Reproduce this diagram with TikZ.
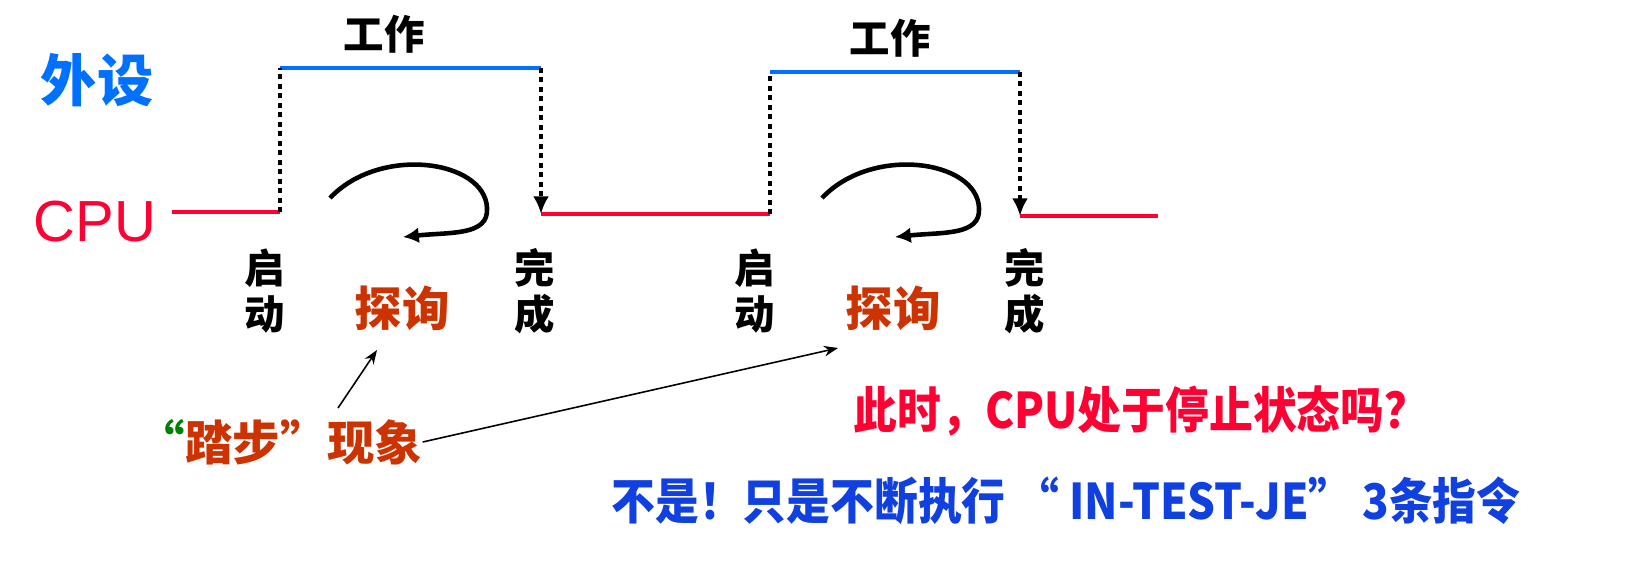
\documentclass[tikz,border=0pt]{standalone}
\usepackage{fontspec}
\setmainfont{Liberation Sans}
\newfontfamily\cjk{Noto Sans CJK SC}
\usepackage{tikz}
\usetikzlibrary{arrows.meta,positioning,calc}

\definecolor{cpured}{RGB}{255,0,51}
\definecolor{devblue}{RGB}{0,112,255}
\definecolor{pollred}{RGB}{204,51,0}
\definecolor{quotegreen}{RGB}{0,128,0}
\definecolor{ansblue}{RGB}{16,64,224}

\tikzset{
  cpuline/.style={draw=cpured, line width=2.8pt},
  devline/.style={draw=devblue, line width=2.8pt},
  handoff/.style={line width=2.6pt, dash pattern=on 2.8pt off 2.6pt},
  loopy/.style={line width=2.6pt, -{Latex[length=9pt,width=9pt]}},
  pointer/.style={line width=0.9pt, -{Stealth[length=8pt,width=6pt]}},
  tag/.style={inner sep=0pt, font=\cjk\bfseries\fontsize{23}{26}\selectfont, align=center},
  poll/.style={inner sep=0pt, text=pollred, font=\cjk\bfseries\fontsize{27}{30}\selectfont},
  remark/.style={inner sep=0pt, font=\cjk\bfseries\fontsize{28}{30}\selectfont, xscale=0.89}
}

\begin{document}
\begin{tikzpicture}[x=0.02cm, y=-0.02cm]
    \useasboundingbox (0,0) rectangle (1648,566);

    % Define nodes
    \node[inner sep=0pt, text=devblue, font=\cjk\bfseries\fontsize{32}{34}\selectfont] (dev) at (97,80) {外设};
    \node[inner sep=0pt, text=cpured, font=\fontsize{33}{36}\selectfont] (cpu) at (95,222) {CPU};

    \coordinate (c0) at (172,212);
    \coordinate (s1) at (280,212);  \coordinate (s1t) at (280,68);
    \coordinate (f1t) at (541,68);  \coordinate (f1) at (541,214);
    \coordinate (s2) at (770,214);  \coordinate (s2t) at (770,72);
    \coordinate (f2t) at (1020,72); \coordinate (f2) at (1020,216);
    \coordinate (c3) at (1158,216);

    \node[tag, above = 8pt of $(s1t)!0.4!(f1t)$] (work1) {工作};
    \node[tag, above = 8pt of $(s2t)!0.48!(f2t)$] (work2) {工作};

    \node[tag] (start1) at (265,291) {启\\动};
    \node[tag] (done1) at (535,291) {完\\成};
    \node[tag] (start2) at (755,291) {启\\动};
    \node[tag] (done2) at (1025,291) {完\\成};

    \node[poll] (poll1) at (402,308) {探询};
    \node[poll] (poll2) at (893,308) {探询};

    \node[inner sep=0pt, font=\cjk\bfseries\fontsize{27}{30}\selectfont] (step) at (280,442)
      {\textcolor{quotegreen}{“}\textcolor{pollred}{踏步”现象}};

    \node[remark, text=cpured] (ask) at (1141,411)
      {此时，CPU处于停止状态吗？};
    \node[remark, text=ansblue] (ans) at (1066,501)
      {不是！只是不断执行 “ IN-TEST-JE” 3条指令};

    % Connect nodes
    \draw[cpuline] (c0) -- (s1);
    \draw[cpuline] (f1) -- (s2);
    \draw[cpuline] (f2) -- (c3);
    \draw[devline] (s1t) -- (f1t);
    \draw[devline] (s2t) -- (f2t);

    \draw[handoff] (s1) -- (s1t);
    \draw[handoff, -{Latex[length=10pt,width=9pt]}] (f1t) -- (f1);
    \draw[handoff] (s2) -- (s2t);
    \draw[handoff, -{Latex[length=10pt,width=9pt]}] (f2t) -- (f2);

    \foreach \dx in {0,492} {
      \draw[loopy] (330+\dx,198) .. controls (380+\dx,145) and (485+\dx,160) .. (487+\dx,208)
        .. controls (489+\dx,236) and (450+\dx,232) .. (403+\dx,237);
    }

    \coordinate (tip1) at (377,350);
    \coordinate (tip2) at (838,348);
    \draw[pointer] (338,408) -- (tip1);
    \draw[pointer] (step.east) -- (tip2);
\end{tikzpicture}
\end{document}
